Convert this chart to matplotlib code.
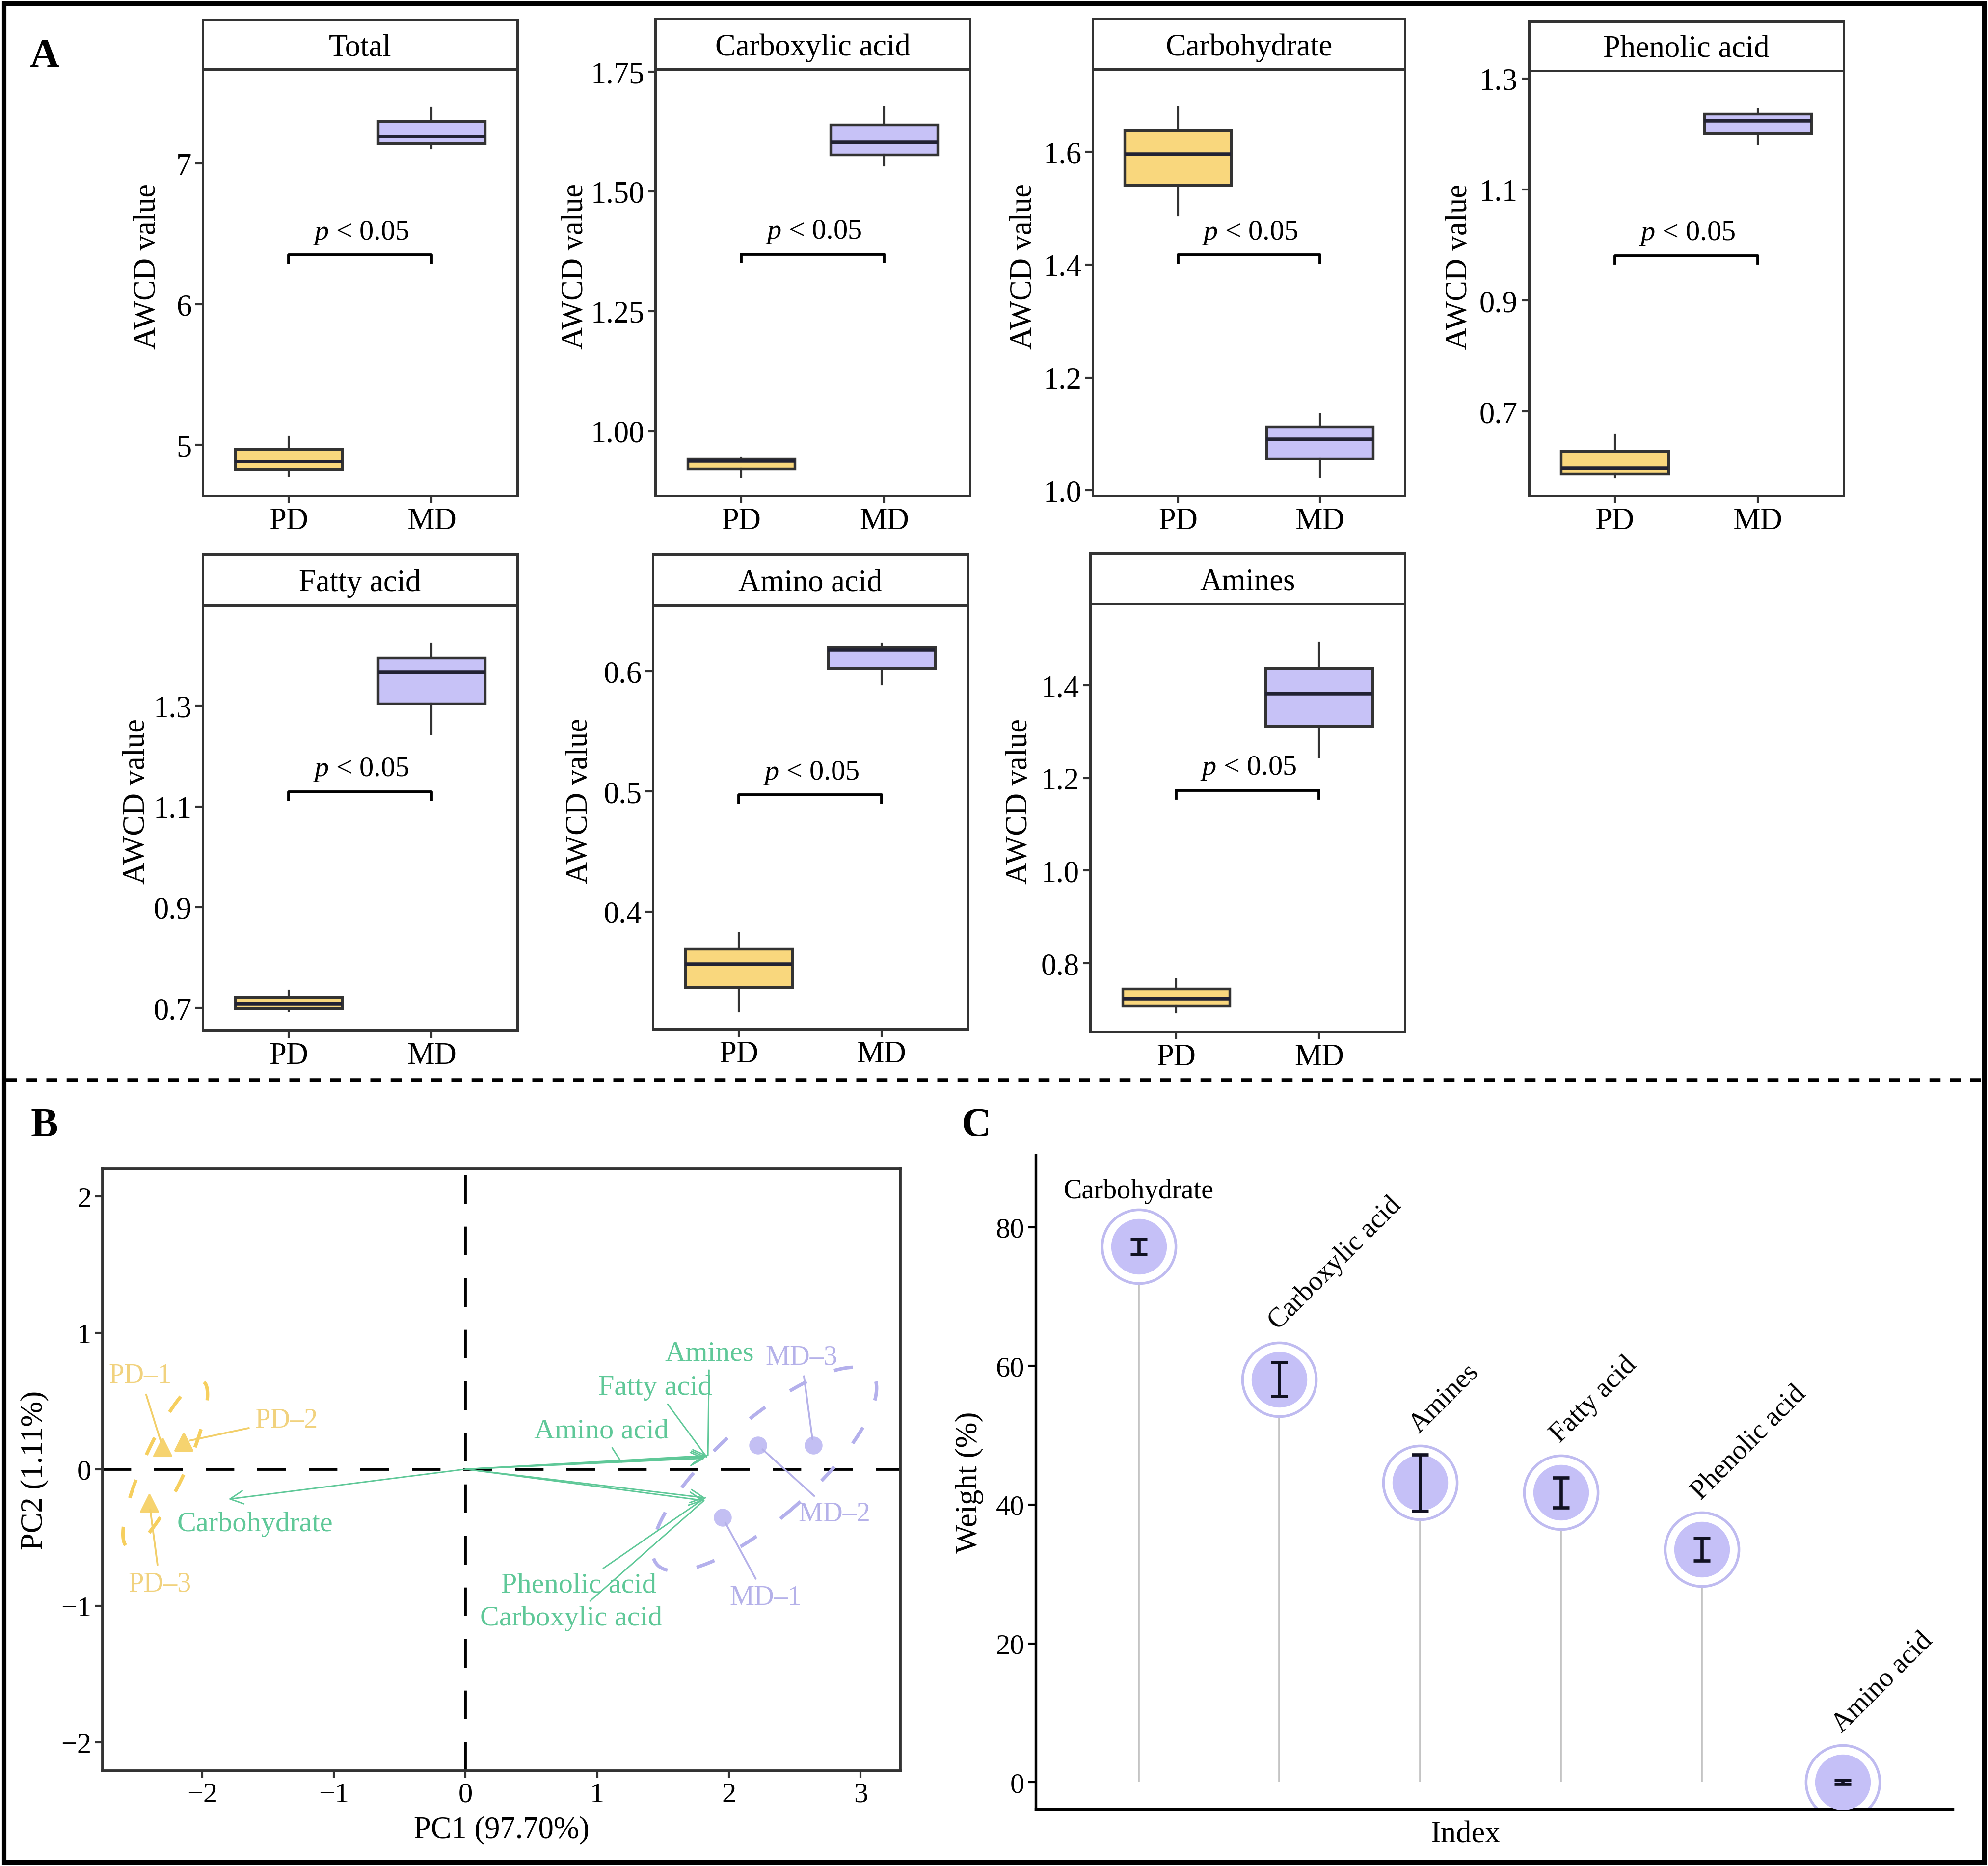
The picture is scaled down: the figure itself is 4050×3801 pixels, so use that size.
import numpy as np
import matplotlib
matplotlib.use('Agg')
import matplotlib.pyplot as plt
from matplotlib.lines import Line2D
from matplotlib.patches import Rectangle

plt.rcParams['font.family'] = ['Liberation Serif', 'DejaVu Serif']
plt.rcParams['mathtext.fontset'] = 'custom'
plt.rcParams['mathtext.it'] = 'Liberation Serif:italic'
plt.rcParams['mathtext.rm'] = 'Liberation Serif'

# ---- panel A data: box stats (whisker low, q1, median, q3, whisker high)
groups = ['PD', 'MD']
total_pd = [4.78, 4.826, 4.88, 4.97, 5.057]
total_md = [7.11, 7.145, 7.194, 7.30, 7.40]
carboxylic_pd = [0.904, 0.921, 0.937, 0.942, 0.944]
carboxylic_md = [1.554, 1.577, 1.602, 1.639, 1.676]
carbohydrate_pd = [1.487, 1.541, 1.596, 1.638, 1.679]
carbohydrate_md = [1.024, 1.056, 1.090, 1.113, 1.135]
phenolic_pd = [0.582, 0.588, 0.598, 0.629, 0.658]
phenolic_md = [1.182, 1.202, 1.224, 1.236, 1.244]
fatty_pd = [0.694, 0.699, 0.7075, 0.721, 0.734]
fatty_md = [1.244, 1.305, 1.367, 1.395, 1.424]
amino_pd = [0.317, 0.337, 0.356, 0.369, 0.382]
amino_md = [0.589, 0.6026, 0.6175, 0.620, 0.623]
amines_pd = [0.6946, 0.708, 0.7235, 0.745, 0.765]
amines_md = [1.245, 1.312, 1.382, 1.437, 1.492]
bracket_y = [6.35, 1.369, 1.417, 0.981, 1.129, 0.497, 1.173]

# ---- panel B data: PCA scores and loadings
pd_names = ['PD–1', 'PD–2', 'PD–3']
pd_pc1 = [-2.30, -2.14, -2.40]
pd_pc2 = [0.16, 0.20, -0.25]
md_names = ['MD–1', 'MD–2', 'MD–3']
md_pc1 = [1.95, 2.22, 2.64]
md_pc2 = [-0.352, 0.176, 0.176]
var_names = ['Carbohydrate', 'Amines', 'Fatty acid', 'Amino acid',
             'Phenolic acid', 'Carboxylic acid']
load_pc1 = [-1.80, 1.84, 1.83, 1.82, 1.82, 1.81]
load_pc2 = [-0.22, 0.10, 0.09, 0.08, -0.21, -0.23]

# ---- panel C data: weights
w_names = ['Carbohydrate', 'Carboxylic acid', 'Amines', 'Fatty acid',
           'Phenolic acid', 'Amino acid']
w_mean = [77.2, 58.05, 43.15, 41.75, 33.55, 0.0]
w_err = [1.1, 2.45, 4.05, 2.15, 1.65, 0.3]

PD_COL = '#F9D77D'
MD_COL = '#C7C2F7'
GREEN = '#5FC898'
EDGE = '#333333'

fig = plt.figure(figsize=(13.5, 12.6733), dpi=300)


def fx(x):
    return x / 1568


def fy(y):
    return 1 - y / 1470


def box_panel(left, right, strip_top, top, bottom, title, pd_s, md_s, by, ylim, ticks, fmt, lab_x):
    ax = fig.add_axes([fx(left), fy(bottom), fx(right) - fx(left), fy(top) - fy(bottom)])
    st = fig.add_axes([fx(left), fy(top), fx(right) - fx(left), fy(strip_top) - fy(top)])
    st.set_xticks([])
    st.set_yticks([])
    st.text(0.5, 0.43, title, ha='center', va='center', fontsize=15, transform=st.transAxes)
    for s in st.spines.values():
        s.set_color(EDGE)
        s.set_linewidth(1.2)
    stats = []
    for g, v in zip(groups, [pd_s, md_s]):
        stats.append(dict(label=g, whislo=v[0], q1=v[1], med=v[2], q3=v[3], whishi=v[4], fliers=[]))
    bp = ax.bxp(stats, positions=[1, 2], widths=0.75, patch_artist=True, showcaps=False,
                showfliers=False,
                boxprops=dict(edgecolor=EDGE, linewidth=1.3),
                medianprops=dict(color='#222233', linewidth=1.8),
                whiskerprops=dict(color=EDGE, linewidth=1.0))
    for patch, c in zip(bp['boxes'], [PD_COL, MD_COL]):
        patch.set_facecolor(c)
    ax.set_xlim(0.4, 2.6)
    ax.set_ylim(*ylim)
    d = 0.018 * (ylim[1] - ylim[0])
    ax.plot([1, 1, 2, 2], [by - d, by, by, by - d], color='black', lw=1.4)
    ax.annotate(r'$p$ < 0.05', xy=(1.5, by), xytext=(0.5, 11), textcoords='offset points',
                ha='center', va='center', fontsize=14)
    ax.set_yticks(ticks)
    ax.set_yticklabels([fmt.format(t) for t in ticks])
    ax.set_xticks([1, 2])
    ax.set_xticklabels(groups, fontsize=15)
    ax.tick_params(axis='y', labelsize=15)
    ax.tick_params(direction='out', length=3.5, width=1, color=EDGE, pad=2)
    ax.set_ylabel('AWCD value', fontsize=15)
    ax.yaxis.set_label_coords(lab_x + 0.05, 0.54)
    for s in ax.spines.values():
        s.set_color(EDGE)
        s.set_linewidth(1.2)
    return ax


box_panel(160, 408, 16, 55, 391, 'Total', total_pd, total_md, bracket_y[0],
          (4.636, 7.67), [5, 6, 7], '{:.0f}', -0.18)
box_panel(517, 765, 15, 55, 391, 'Carboxylic acid', carboxylic_pd, carboxylic_md, bracket_y[1],
          (0.864, 1.755), [1.0, 1.25, 1.5, 1.75], '{:.2f}', -0.26)
box_panel(862, 1108, 15, 55, 391, 'Carbohydrate', carbohydrate_pd, carbohydrate_md, bracket_y[2],
          (0.990, 1.746), [1.0, 1.2, 1.4, 1.6], '{:.1f}', -0.226)
box_panel(1206, 1454, 17, 56, 391, 'Phenolic acid', phenolic_pd, phenolic_md, bracket_y[3],
          (0.548, 1.314), [0.7, 0.9, 1.1, 1.3], '{:.1f}', -0.226)
box_panel(160, 408, 437, 477, 812, 'Fatty acid', fatty_pd, fatty_md, bracket_y[4],
          (0.655, 1.50), [0.7, 0.9, 1.1, 1.3], '{:.1f}', -0.214)
box_panel(515, 763, 437, 477, 811, 'Amino acid', amino_pd, amino_md, bracket_y[5],
          (0.302, 0.655), [0.4, 0.5, 0.6], '{:.1f}', -0.238)
box_panel(860, 1108, 436, 476, 813, 'Amines', amines_pd, amines_md, bracket_y[6],
          (0.652, 1.576), [0.8, 1.0, 1.2, 1.4], '{:.1f}', -0.23)

# ---- panel B: PCA biplot
axb = fig.add_axes([fx(81), fy(1395), fx(710) - fx(81), fy(921) - fy(1395)])
axb.set_xlim(-2.755, 3.30)
axb.set_ylim(-2.21, 2.20)
axb.axhline(0, color='black', lw=1.4, ls=(0, (10, 8)), zorder=1)
axb.axvline(0, color='black', lw=1.4, ls=(0, (10, 8)), zorder=1)


def ellipse(xs, ys, k=2.4477):
    pts = np.vstack([xs, ys])
    mu = pts.mean(axis=1)
    w, v = np.linalg.eigh(np.cov(pts))
    t = np.linspace(0, 2 * np.pi, 300)
    circ = np.vstack([np.cos(t), np.sin(t)])
    e = v @ np.diag(np.sqrt(w)) @ circ * k
    return mu[0] + e[0], mu[1] + e[1]


ex, ey = ellipse(pd_pc1, pd_pc2)
axb.plot(ex, ey, color='#F6CF5E', lw=1.7, ls=(0, (5.5, 8.5)), zorder=2)
ex, ey = ellipse(md_pc1, md_pc2)
axb.plot(ex, ey, color='#B4B0EC', lw=1.7, ls=(0, (5.5, 8.5)), zorder=2)

for x, y in zip(load_pc1, load_pc2):
    axb.annotate('', xy=(x, y), xytext=(0, 0),
                 arrowprops=dict(arrowstyle='->', color=GREEN, lw=0.7, mutation_scale=16,
                                 shrinkA=0, shrinkB=0), zorder=3)

axb.scatter(pd_pc1, pd_pc2, marker='^', s=70, color='#F6D36F', zorder=4)
axb.scatter(md_pc1, md_pc2, marker='o', s=60, color='#C3BFF3', zorder=4)

seg = dict(arrowstyle='-', lw=0.9, shrinkA=1, shrinkB=3)
pd_lab = [(-2.47, 0.685), (-1.36, 0.36), (-2.32, -0.84)]
for n, x, y, p in zip(pd_names, pd_pc1, pd_pc2, pd_lab):
    axb.annotate(n, xy=(x, y), xytext=p, ha='center', va='center', fontsize=13.5,
                 color='#F1D27E', arrowprops=dict(color='#F2CF6A', **seg), zorder=5)
md_lab = [(2.28, -0.94), (2.80, -0.33), (2.55, 0.82)]
for n, x, y, p in zip(md_names, md_pc1, md_pc2, md_lab):
    axb.annotate(n, xy=(x, y), xytext=p, ha='center', va='center', fontsize=13.5,
                 color='#B5B1E9', arrowprops=dict(color='#B5B1E9', **seg), zorder=5)

var_lab = [(-1.60, -0.40), (1.85, 0.85), (1.44, 0.60), (1.03, 0.28), (0.86, -0.85), (0.80, -1.09)]
var_frac = [None, 1.0, 1.0, 0.65, 1.0, 1.0]
for n, x, y, p, f in zip(var_names, load_pc1, load_pc2, var_lab, var_frac):
    if f is None:
        axb.text(p[0], p[1], n, ha='center', va='center', fontsize=14, color=GREEN, zorder=5)
    else:
        axb.annotate(n, xy=(x * f, y * f), xytext=p, ha='center', va='center', fontsize=14,
                     color=GREEN, arrowprops=dict(color=GREEN, arrowstyle='-', lw=0.7,
                                                  shrinkA=0, shrinkB=0), zorder=5)

axb.set_xticks([-2, -1, 0, 1, 2, 3])
axb.set_yticks([-2, -1, 0, 1, 2])
axb.tick_params(labelsize=14, direction='out', length=3.5, width=1, color=EDGE, pad=2)
axb.set_xlabel('PC1 (97.70%)', fontsize=15, labelpad=4)
axb.set_ylabel('PC2 (1.11%)', fontsize=15, labelpad=6)
for s in axb.spines.values():
    s.set_color(EDGE)
    s.set_linewidth(1.4)

# ---- panel C: weights lollipop
axc = fig.add_axes([fx(817), fy(1425), fx(1540) - fx(817), fy(910) - fy(1425)])
xi = np.arange(1, len(w_names) + 1)
axc.vlines(xi, 0, w_mean, color='#C4C4C4', lw=0.9, zorder=1)
axc.scatter(xi, w_mean, s=1300, facecolor='white', edgecolor='#BFBBF0', lw=1.3, zorder=2)
axc.scatter(xi, w_mean, s=740, color='#C5C0F7', lw=0, zorder=3)
axc.errorbar(xi, w_mean, yerr=w_err, fmt='none', ecolor='#111122', elinewidth=1.6,
             capsize=4, capthick=1.6, zorder=4)
for i, (n, x, w) in enumerate(zip(w_names, xi, w_mean)):
    if i == 0:
        axc.text(x, w + 8, n, ha='center', va='center', fontsize=13.5)
    else:
        axc.text(x + 0.02, w + 6.5, n, ha='left', va='bottom', rotation=45,
                 rotation_mode='anchor', fontsize=13.5)
axc.set_xlim(0.27, 6.78)
axc.set_ylim(-3.85, 90.4)
axc.set_xticks([])
axc.set_yticks([0, 20, 40, 60, 80])
axc.tick_params(labelsize=14, direction='out', length=3.5, width=1, pad=2)
axc.spines['top'].set_visible(False)
axc.spines['right'].set_visible(False)
axc.spines['left'].set_linewidth(1.3)
axc.spines['bottom'].set_linewidth(1.3)
axc.set_xlabel('Index', fontsize=15)
axc.xaxis.set_label_coords(0.469, -0.018)
axc.set_ylabel('Weight (%)', fontsize=15, labelpad=6)

# ---- frame, separator and panel letters
fig.add_artist(Rectangle((0.002, 0.002), 0.996, 0.996, transform=fig.transFigure,
                         fill=False, lw=2.2, ec='black'))
fig.add_artist(Line2D([0.003, 0.997], [fy(851), fy(851)], transform=fig.transFigure,
                      color='black', lw=1.8, ls=(0, (3, 2.5))))
fig.text(fx(35), fy(45), 'A', fontsize=20, fontweight='bold', ha='center', va='center')
fig.text(fx(35), fy(887), 'B', fontsize=20, fontweight='bold', ha='center', va='center')
fig.text(fx(770), fy(887), 'C', fontsize=20, fontweight='bold', ha='center', va='center')

fig.savefig('out.png', dpi=300)
